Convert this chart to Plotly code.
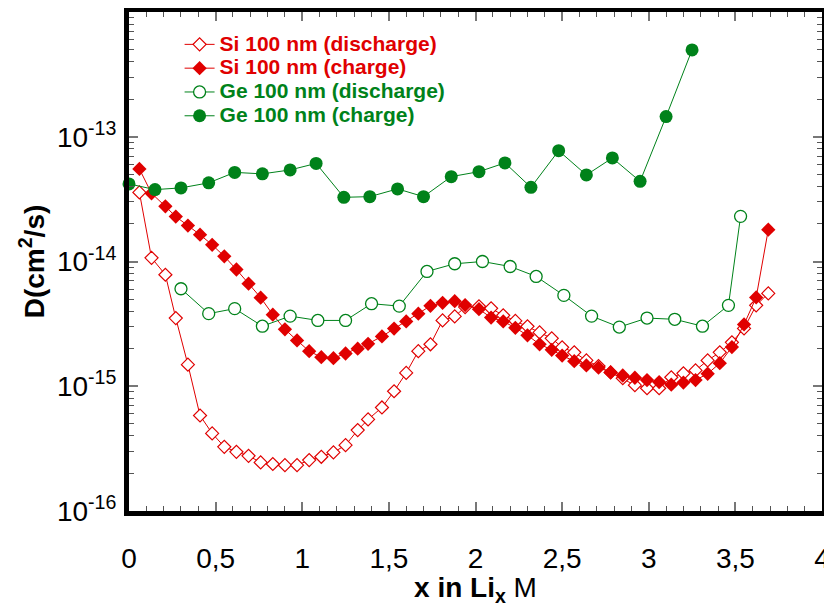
import plotly.graph_objects as go

# ---------------- data ----------------
x_si = [0.06, 0.13, 0.21, 0.27, 0.34, 0.41, 0.48, 0.55, 0.62, 0.69, 0.76, 0.83, 0.90, 0.97,
        1.04, 1.11, 1.18, 1.25, 1.32, 1.38, 1.46, 1.53, 1.60, 1.67, 1.74, 1.81, 1.88, 1.94,
        2.02, 2.09, 2.16, 2.23, 2.30, 2.37, 2.44, 2.50, 2.57, 2.64, 2.71, 2.78, 2.85, 2.92,
        2.99, 3.06, 3.13, 3.20, 3.27, 3.34, 3.41, 3.48, 3.55, 3.62, 3.69]

si_discharge = [3.58e-14, 1.07e-14, 7.83e-15, 3.52e-15, 1.49e-15, 5.83e-16, 4.19e-16, 3.27e-16,
                2.98e-16, 2.77e-16, 2.45e-16, 2.38e-16, 2.33e-16, 2.33e-16, 2.56e-16, 2.72e-16,
                2.95e-16, 3.37e-16, 4.45e-16, 5.42e-16, 6.76e-16, 9.12e-16, 1.28e-15, 1.91e-15,
                2.17e-15, 3.37e-15, 3.63e-15, 4.31e-15, 4.37e-15, 4.21e-15, 3.70e-15, 3.34e-15,
                3.02e-15, 2.70e-15, 2.42e-15, 2.05e-15, 1.87e-15, 1.61e-15, 1.45e-15, 1.29e-15,
                1.16e-15, 1.02e-15, 9.64e-16, 9.64e-16, 1.18e-15, 1.27e-15, 1.34e-15, 1.61e-15,
                1.87e-15, 2.25e-15, 2.91e-15, 4.45e-15, 5.55e-15]

si_charge = [5.52e-14, 3.52e-14, 2.77e-14, 2.29e-14, 1.94e-14, 1.64e-14, 1.36e-14, 1.10e-14,
             8.63e-15, 6.64e-15, 5.13e-15, 3.75e-15, 2.86e-15, 2.33e-15, 1.91e-15, 1.71e-15,
             1.68e-15, 1.83e-15, 2.00e-15, 2.19e-15, 2.51e-15, 2.90e-15, 3.31e-15, 3.82e-15,
             4.41e-15, 4.66e-15, 4.81e-15, 4.47e-15, 4.15e-15, 3.55e-15, 3.31e-15, 2.94e-15,
             2.56e-15, 2.17e-15, 1.96e-15, 1.76e-15, 1.59e-15, 1.47e-15, 1.41e-15, 1.29e-15,
             1.22e-15, 1.17e-15, 1.12e-15, 1.08e-15, 1.03e-15, 1.07e-15, 1.12e-15, 1.26e-15,
             1.53e-15, 2.06e-15, 3.13e-15, 5.15e-15, 1.80e-14]

x_ge_discharge = [0.30, 0.46, 0.61, 0.77, 0.93, 1.09, 1.25, 1.40, 1.56, 1.72, 1.88, 2.04, 2.20,
                  2.35, 2.51, 2.67, 2.83, 2.99, 3.15, 3.31, 3.46, 3.53]
ge_discharge = [6.05e-15, 3.82e-15, 4.19e-15, 3.03e-15, 3.65e-15, 3.37e-15, 3.37e-15, 4.59e-15,
                4.39e-15, 8.32e-15, 9.59e-15, 1.00e-14, 9.12e-15, 7.59e-15, 5.35e-15, 3.65e-15,
                2.98e-15, 3.52e-15, 3.44e-15, 3.03e-15, 4.45e-15, 2.30e-14]

x_ge_charge = [0.00, 0.15, 0.30, 0.46, 0.61, 0.77, 0.93, 1.08, 1.24, 1.39, 1.55, 1.70, 1.86,
               2.02, 2.17, 2.32, 2.48, 2.64, 2.79, 2.95, 3.10, 3.25]
ge_charge = [4.19e-14, 3.77e-14, 3.89e-14, 4.27e-14, 5.18e-14, 5.04e-14, 5.42e-14, 6.11e-14,
             3.27e-14, 3.31e-14, 3.82e-14, 3.31e-14, 4.79e-14, 5.25e-14, 6.17e-14, 3.93e-14,
             7.73e-14, 4.94e-14, 6.76e-14, 4.39e-14, 1.45e-13, 4.97e-13]

x_tickvals = [0, 0.5, 1, 1.5, 2, 2.5, 3, 3.5, 4]
x_ticktext = ["0", "0,5", "1", "1,5", "2", "2,5", "3", "3,5", "4"]
y_tickvals = [1e-16, 1e-15, 1e-14, 1e-13, 1e-12]
y_ticktext = ["10<sup>-16</sup>", "10<sup>-15</sup>", "10<sup>-14</sup>", "10<sup>-13</sup>", ""]

RED = "#e00000"
GREEN = "#00821a"

def lname(text, color):
    return f'<span style="color:{color};font-size:21px"><b>{text}</b></span>'

fig = go.Figure()
fig.add_trace(go.Scatter(
    x=x_si, y=si_discharge, mode="lines+markers", cliponaxis=False,
    name=lname("Si 100 nm (discharge)", RED),
    line=dict(color=RED, width=1),
    marker=dict(symbol="diamond", size=10, color="white", line=dict(color=RED, width=1.2))))
fig.add_trace(go.Scatter(
    x=x_si, y=si_charge, mode="lines+markers", cliponaxis=False,
    name=lname("Si 100 nm (charge)", RED),
    line=dict(color=RED, width=1),
    marker=dict(symbol="diamond", size=11, color=RED, line=dict(color=RED, width=0))))
fig.add_trace(go.Scatter(
    x=x_ge_discharge, y=ge_discharge, mode="lines+markers", cliponaxis=False,
    name=lname("Ge 100 nm (discharge)", GREEN),
    line=dict(color=GREEN, width=1),
    marker=dict(symbol="circle", size=12, color="white", line=dict(color=GREEN, width=1.3))))
fig.add_trace(go.Scatter(
    x=x_ge_charge, y=ge_charge, mode="lines+markers", cliponaxis=False,
    name=lname("Ge 100 nm (charge)", GREEN),
    line=dict(color=GREEN, width=1),
    marker=dict(symbol="circle", size=13, color=GREEN, line=dict(color=GREEN, width=0))))

minor_y = [m * 10.0 ** e for e in range(-16, -12) for m in range(2, 10)]

FONT = "Liberation Sans, Arial, sans-serif"

# the page body adds an 8 px offset, so margins are shifted accordingly
fig.update_layout(
    width=824, height=599,
    margin=dict(l=121, r=10, t=4, b=96),
    paper_bgcolor="white", plot_bgcolor="white",
    font=dict(family=FONT, color="black"),
    showlegend=True,
    legend=dict(x=0.073, y=0.969, xanchor="left", yanchor="top",
                bgcolor="rgba(0,0,0,0)", borderwidth=0,
                font=dict(family=FONT, size=16), tracegroupgap=0),
    xaxis=dict(
        range=[0, 4], showgrid=False, zeroline=False, automargin=False,
        showline=True, linecolor="black", linewidth=5, mirror="allticks",
        ticks="inside", ticklen=9, tickwidth=2, tickcolor="#777777",
        tickvals=x_tickvals, ticktext=x_ticktext, ticklabeloverflow="allow",
        tickfont=dict(family=FONT, size=28), ticklabelstandoff=18,
        minor=dict(dtick=0.1, tick0=0, ticks="inside", ticklen=5, tickwidth=1,
                   tickcolor="#555555", showgrid=False),
        title=dict(text="<b>x in Li<sub>x</sub></b> M",
                   font=dict(family=FONT, size=28), standoff=4),
    ),
    yaxis=dict(
        type="log", range=[-16, -12], showgrid=False, zeroline=False, automargin=False,
        showline=True, linecolor="black", linewidth=5, mirror="allticks",
        ticks="inside", ticklen=9, tickwidth=2, tickcolor="#777777",
        tickvals=y_tickvals, ticktext=y_ticktext,
        tickfont=dict(family=FONT, size=28), ticklabelstandoff=2,
        minor=dict(tickvals=minor_y, ticks="inside", ticklen=5, tickwidth=1,
                   tickcolor="#555555", showgrid=False),
        title=dict(text="<b>D(cm<sup>2</sup>/s)</b>",
                   font=dict(family=FONT, size=28), standoff=6),
    ),
)

fig.write_html("out.html")
